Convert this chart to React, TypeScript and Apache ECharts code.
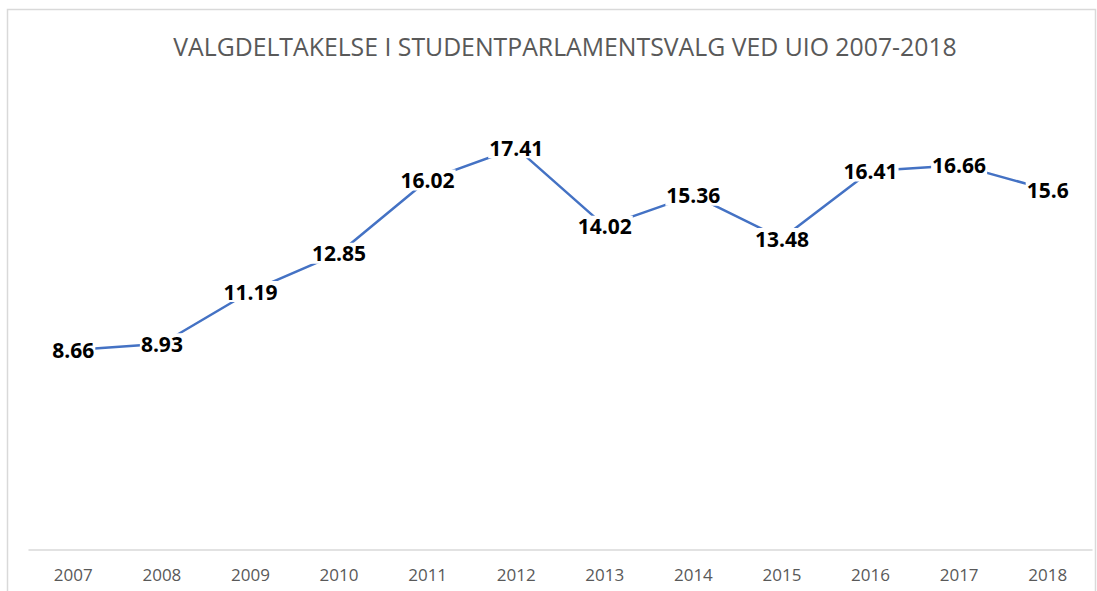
import React, { useEffect, useRef } from "react";
import * as echarts from "echarts";

const years = ["2007", "2008", "2009", "2010", "2011", "2012", "2013", "2014", "2015", "2016", "2017", "2018"];
const turnout = [8.66, 8.93, 11.19, 12.85, 16.02, 17.41, 14.02, 15.36, 13.48, 16.41, 16.66, 15.6];
const titleText = "VALGDELTAKELSE I STUDENTPARLAMENTSVALG VED UIO 2007-2018";

export default function App() {
  const ref = useRef<HTMLDivElement>(null);
  useEffect(() => {
    if (!ref.current) return;
    const chart = echarts.init(ref.current, null, { renderer: "svg" });
    chart.setOption({
      animation: false,
      backgroundColor: "#ffffff",
      title: {
        text: titleText,
        left: 560,
        textAlign: "center",
        top: 28,
        textStyle: { fontFamily: "Open Sans", fontSize: 24.8, fontWeight: "normal", color: "#595959" },
      },
      graphic: [
        {
          type: "rect",
          shape: { x: 7.5, y: 9.5, width: 1088, height: 600 },
          style: { fill: "none", stroke: "#d9d9d9", lineWidth: 1.5 },
          silent: true,
        },
      ],
      grid: { left: 29, right: 5, top: 88, bottom: 41 },
      xAxis: {
        type: "category",
        data: years,
        boundaryGap: true,
        axisLine: { lineStyle: { color: "#d9d9d9", width: 1.5 } },
        axisTick: { show: false },
        axisLabel: { color: "#595959", fontFamily: "Open Sans", fontSize: 17, margin: 16 },
      },
      yAxis: {
        type: "value",
        min: 0,
        max: 20,
        interval: 5,
        show: false,
        splitLine: { show: false },
      },
      series: [
        {
          type: "line",
          data: turnout,
          symbol: "circle",
          symbolSize: 1,
          showSymbol: true,
          itemStyle: { color: "rgba(0,0,0,0)" },
          lineStyle: { color: "#4472c4", width: 2.5 },
          label: {
            show: true,
            position: "inside",
            color: "#000000",
            fontFamily: "Open Sans",
            fontWeight: "bold",
            fontSize: 21,
            backgroundColor: "#ffffff",
            padding: [0, 1],
          },
        },
      ],
    });
    return () => chart.dispose();
  }, []);
  return <div ref={ref} style={{ position: "fixed", left: 0, top: 0, width: 1097, height: 591 }} />;
}
